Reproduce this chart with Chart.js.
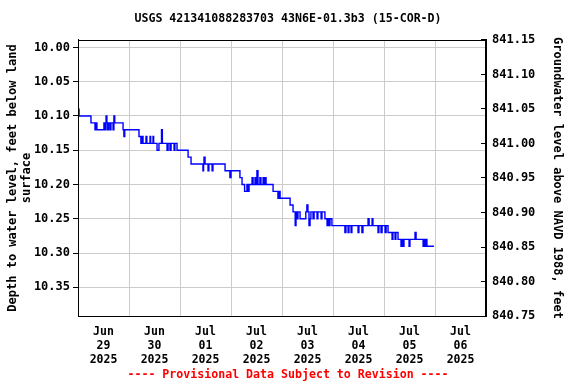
<!DOCTYPE html>
<html><head><meta charset="utf-8">
<script src="https://cdn.jsdelivr.net/npm/chart.js@4.4.1/dist/chart.umd.min.js"></script>
<style>html,body{margin:0;padding:0;background:#fff}</style>
</head><body>
<canvas id="c" width="576" height="384" style="width:576px;height:384px;display:block"></canvas>
<script>
// hours since 2025-06-29 00:00 (local), depth to water (ft below land surface)
const hours = [0,0.5,6.1,8.0,8.4,8.9,12.2,12.7,13.2,13.6,14.0,14.4,15.1,15.5,16.5,16.9,17.3,21.2,21.6,22.0,
  28.7,29.6,30.1,30.6,32.0,32.4,33.9,34.2,35.3,35.6,37.2,38.1,39.3,39.7,41.9,42.4,43.3,43.8,45.2,45.6,46.6,
  51.8,53.2,58.8,59.1,59.3,59.8,61.2,61.6,63.1,63.5,69.2,71.5,72.0,76.2,77.2,78.4,79.5,80.0,80.5,
  81.9,82.4,83.3,83.8,84.2,84.7,85.6,86.1,87.1,87.5,88.0,88.5,91.8,94.1,94.6,95.1,99.8,101.2,102.2,102.6,103.1,103.5,104.5,
  107.2,107.7,108.2,108.7,109.2,109.6,110.6,111.1,112.5,112.9,114.4,114.8,116.2,117.2,117.6,118.1,118.6,119.5,
  125.6,126.1,127.1,127.5,128.5,128.9,131.8,132.2,133.6,134.1,136.5,137.0,138.4,138.8,141.2,141.6,142.6,143.1,144.5,145.0,145.9,
  147.8,148.2,149.2,149.6,150.6,152.0,152.5,152.9,153.4,155.8,156.2,158.6,159.1,162.4,162.8,163.3,163.8,164.2,167.5];
const depth = [10.09,10.10,10.11,10.12,10.11,10.12,10.11,10.12,10.10,10.11,10.12,10.11,10.12,10.11,10.12,10.10,10.11,10.12,10.13,10.12,
  10.13,10.14,10.13,10.14,10.13,10.14,10.13,10.14,10.13,10.14,10.15,10.14,10.12,10.14,10.15,10.14,10.15,10.14,10.15,10.14,10.15,
  10.16,10.17,10.18,10.17,10.16,10.17,10.18,10.17,10.18,10.17,10.18,10.19,10.18,10.19,10.20,10.21,10.20,10.21,10.20,
  10.19,10.20,10.19,10.20,10.18,10.20,10.19,10.20,10.19,10.20,10.19,10.20,10.21,10.22,10.21,10.22,10.23,10.24,10.26,10.24,10.25,10.24,10.25,
  10.24,10.23,10.24,10.26,10.25,10.24,10.25,10.24,10.25,10.24,10.25,10.24,10.25,10.26,10.25,10.26,10.25,10.26,
  10.27,10.26,10.27,10.26,10.27,10.26,10.27,10.26,10.27,10.26,10.25,10.26,10.25,10.26,10.27,10.26,10.27,10.26,10.27,10.26,10.27,
  10.28,10.27,10.28,10.27,10.28,10.29,10.28,10.29,10.28,10.29,10.28,10.27,10.28,10.29,10.28,10.29,10.28,10.29,10.29];
const dayLabels = [['Jun','29','2025'],['Jun','30','2025'],['Jul','01','2025'],['Jul','02','2025'],
  ['Jul','03','2025'],['Jul','04','2025'],['Jul','05','2025'],['Jul','06','2025']];
const depthTicks = [10.00,10.05,10.10,10.15,10.20,10.25,10.30,10.35];
const elevTicks = [840.75,840.80,840.85,840.90,840.95,841.00,841.05,841.10,841.15];
const xTickHours = [12,24,36,48,60,72,84,96,108,120,132,144,156,168,180];

Chart.defaults.font.family = "'DejaVu Sans Mono', monospace";
Chart.defaults.font.weight = 'bold';
Chart.defaults.color = '#000';

const borderPlugin = {
  id: 'areaBorder',
  afterDraw(chart) {
    const a = chart.chartArea, ctx = chart.ctx;
    ctx.save(); ctx.strokeStyle = '#000'; ctx.lineWidth = 1;
    ctx.strokeRect(Math.round(a.left) + 0.5, Math.round(a.top) + 0.5, Math.round(a.right - a.left) - 1, Math.round(a.bottom - a.top));
    ctx.restore();
  }
};

new Chart(document.getElementById('c'), {
  type: 'line',
  data: {
    datasets: [{
      data: hours.map((h, i) => ({x: h, y: depth[i]})),
      borderColor: '#0000ff', borderWidth: 1.4, pointRadius: 0, stepped: true, fill: false, yAxisID: 'y'
    }]
  },
  options: {
    responsive: false, animation: false, devicePixelRatio: 1,
    layout: {padding: 0},
    plugins: {
      legend: {display: false}, tooltip: {enabled: false},
      title: {display: true, text: 'USGS 421341088283703 43N6E-01.3b3 (15-COR-D)', font: {size: 11.6, weight: 'bold'}, padding: {top: 12, bottom: 14}, color: '#000'},
      subtitle: {display: true, position: 'bottom', text: '---- Provisional Data Subject to Revision ----', color: '#ff0000', font: {size: 11.6, weight: 'bold'}, padding: {top: 0, bottom: 2}}
    },
    scales: {
      x: {
        type: 'linear', min: 0, max: 192,
        afterBuildTicks: s => { s.ticks = xTickHours.map(v => ({value: v})); },
        afterFit: s => { s.height = 52; },
        ticks: {autoSkip: false, maxRotation: 0, padding: 9, font: {size: 11.5}, color: '#000',
          callback: v => (v % 24 === 12 ? dayLabels[(v - 12) / 24] : '')},
        grid: {color: c => (c.tick && c.tick.value % 24 === 0 ? '#cccccc' : 'rgba(0,0,0,0)'), drawTicks: false},
        border: {color: '#000'}
      },
      y: {
        position: 'left', reverse: true, min: 9.989, max: 10.392,
        afterBuildTicks: s => { s.ticks = depthTicks.map(v => ({value: v})); },
        afterFit: s => { s.width = 78; },
        ticks: {padding: 3, font: {size: 12}, callback: v => v.toFixed(2)},
        grid: {color: '#cccccc', tickColor: '#000', tickLength: 5},
        border: {color: '#000'},
        title: {display: true, text: ['Depth to water level, feet below land', 'surface'], font: {size: 12, weight: 'bold', lineHeight: 1.17}, padding: {top: 6, bottom: 0}}
      },
      y2: {
        position: 'right', min: 840.75, max: 841.15,
        afterBuildTicks: s => { s.ticks = elevTicks.map(v => ({value: v})); },
        afterFit: s => { s.width = 90; },
        ticks: {padding: 11, font: {size: 12}, callback: v => v.toFixed(2)},
        grid: {drawOnChartArea: false, tickColor: '#000', tickLength: -5},
        border: {color: '#000'},
        title: {display: true, text: 'Groundwater level above NAVD 1988, feet', font: {size: 12, weight: 'bold', lineHeight: 1.17}, padding: {top: 12, bottom: 0}}
      }
    }
  },
  plugins: [borderPlugin]
});
</script>
</body></html>
